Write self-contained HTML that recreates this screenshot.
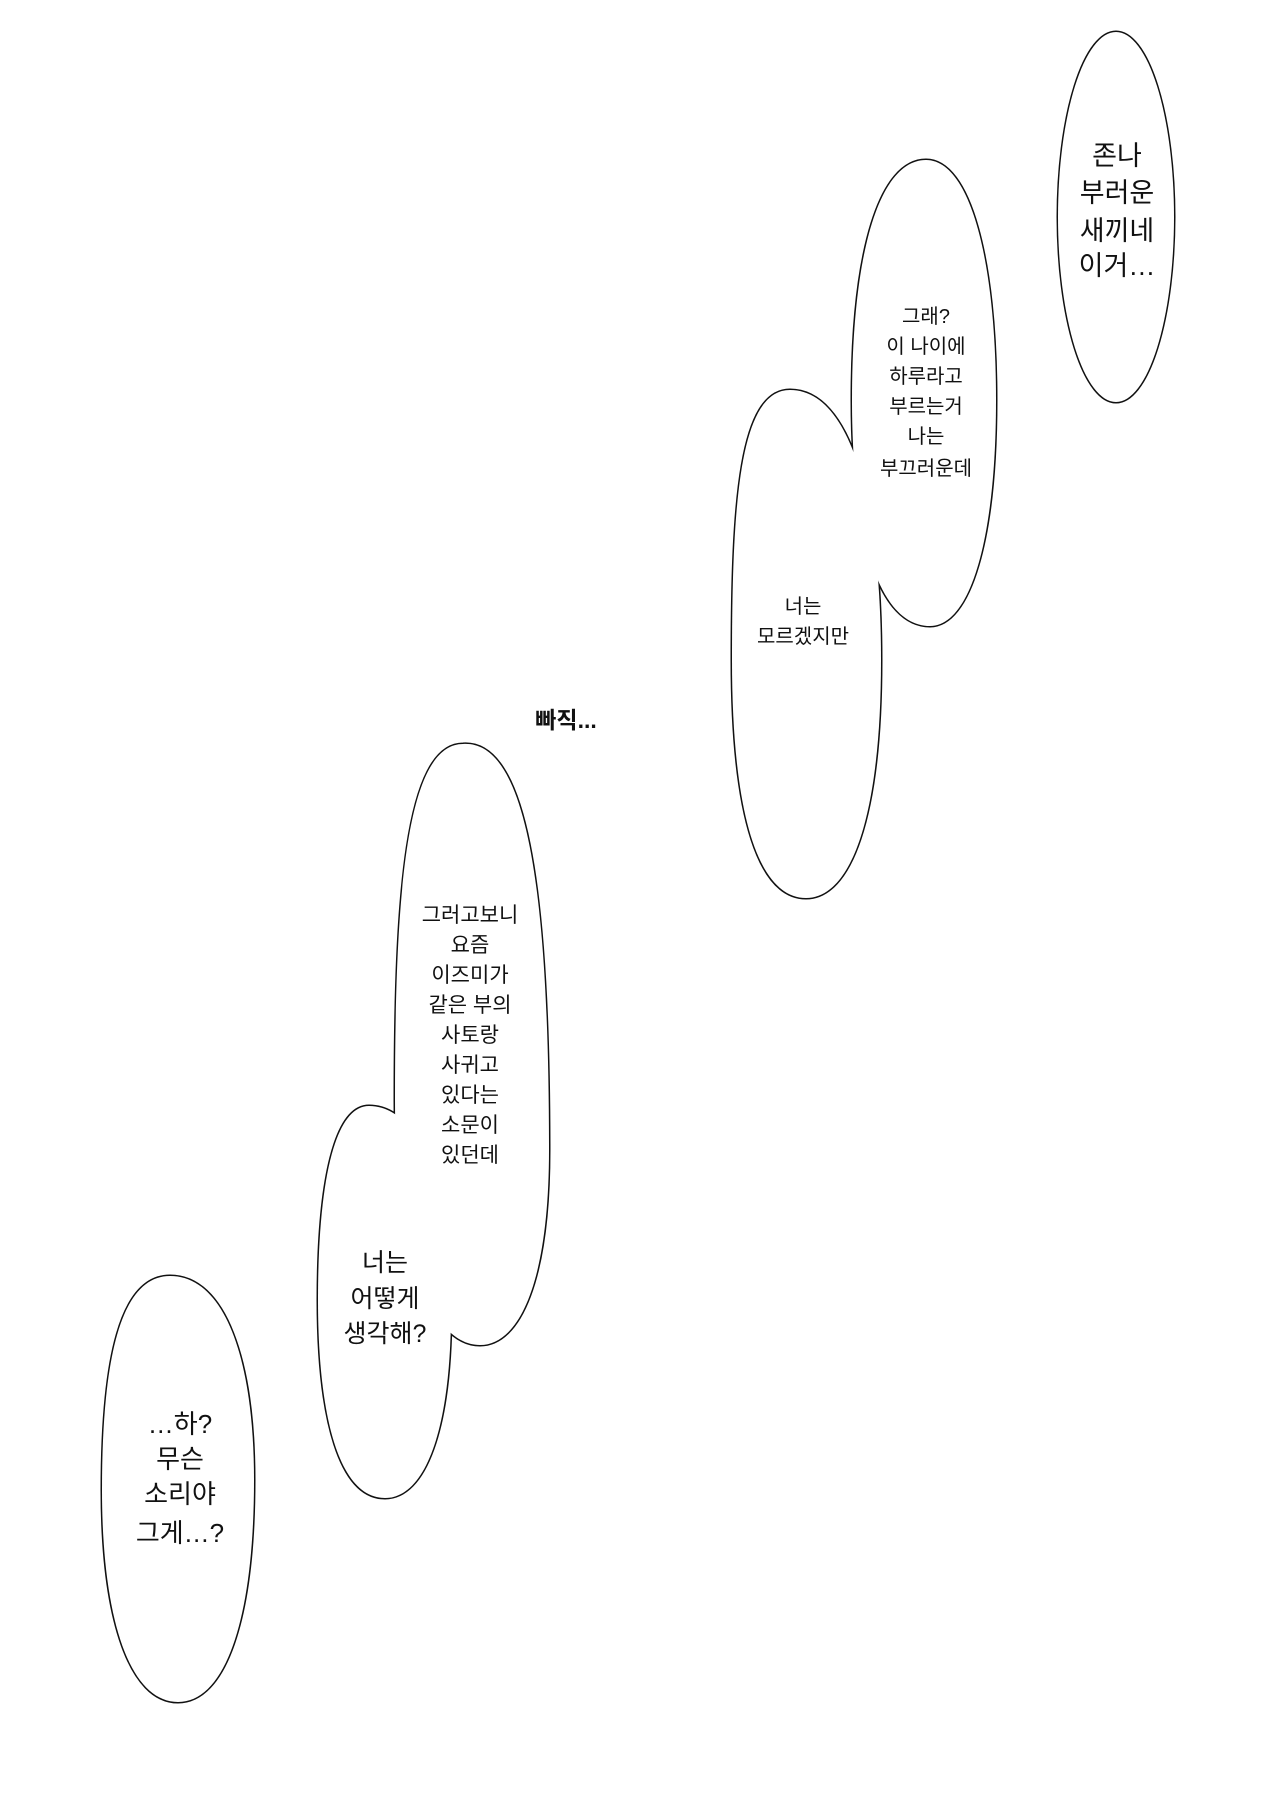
<!DOCTYPE html>
<html><head><meta charset="utf-8"><style>
html,body{margin:0;padding:0;background:#fff;}
svg{display:block;}
text{font-family:"Liberation Sans","Noto Sans CJK KR","NanumGothic",sans-serif;fill:#111;text-anchor:middle;}
</style></head><body>
<svg width="1280" height="1802" viewBox="0 0 1280 1802" xmlns="http://www.w3.org/2000/svg">
<rect width="1280" height="1802" fill="#fff"/>
<g fill="none" stroke="#111" stroke-width="3">
<ellipse cx="1116" cy="217" rx="58" ry="185"/>
<path d="M926,160 C970,160 996,260 996,400 C996,540 970,626 930,626 C880,626 852,540 852,400 C852,250 880,160 926,160 Z"/>
<path d="M790,390 C850,390 881,500 881,660 C881,820 850,898 806,898 C760,898 732,820 732,660 C732,500 740,390 790,390 Z"/>
<path d="M463,744 C525,740 549,880 549,1150 C549,1280 520,1345 480,1345 C430,1345 395,1250 395,1100 C395,900 405,744 463,744 Z"/>
<path d="M369,1106 C420,1106 451,1190 451,1310 C451,1430 425,1498 385,1498 C340,1498 318,1420 318,1300 C318,1180 335,1106 369,1106 Z"/>
<path d="M170,1276 C225,1276 254,1360 254,1480 C254,1620 225,1702 178,1702 C130,1702 102,1620 102,1490 C102,1360 120,1276 170,1276 Z"/>
</g>
<g fill="#fff" stroke="none">
<ellipse cx="1116" cy="217" rx="58" ry="185"/>
<path d="M926,160 C970,160 996,260 996,400 C996,540 970,626 930,626 C880,626 852,540 852,400 C852,250 880,160 926,160 Z"/>
<path d="M790,390 C850,390 881,500 881,660 C881,820 850,898 806,898 C760,898 732,820 732,660 C732,500 740,390 790,390 Z"/>
<path d="M463,744 C525,740 549,880 549,1150 C549,1280 520,1345 480,1345 C430,1345 395,1250 395,1100 C395,900 405,744 463,744 Z"/>
<path d="M369,1106 C420,1106 451,1190 451,1310 C451,1430 425,1498 385,1498 C340,1498 318,1420 318,1300 C318,1180 335,1106 369,1106 Z"/>
<path d="M170,1276 C225,1276 254,1360 254,1480 C254,1620 225,1702 178,1702 C130,1702 102,1620 102,1490 C102,1360 120,1276 170,1276 Z"/>
</g>
<g font-size="27">
<text x="1117" y="165">존나</text>
<text x="1117" y="202">부러운</text>
<text x="1117" y="240">새끼네</text>
<text x="1117" y="275">이거…</text>
</g>
<g font-size="20">
<text x="926" y="323">그래?</text>
<text x="926" y="353">이 나이에</text>
<text x="926" y="383">하루라고</text>
<text x="926" y="413">부르는거</text>
<text x="926" y="443">나는</text>
<text x="926" y="475">부끄러운데</text>
<text x="803" y="613">너는</text>
<text x="803" y="643">모르겠지만</text>
</g>
<text x="566" y="728" font-size="23" font-weight="bold">빠직...</text>
<g font-size="21">
<text x="470" y="922">그러고보니</text>
<text x="470" y="952">요즘</text>
<text x="470" y="982">이즈미가</text>
<text x="470" y="1012">같은 부의</text>
<text x="470" y="1042">사토랑</text>
<text x="470" y="1072">사귀고</text>
<text x="470" y="1102">있다는</text>
<text x="470" y="1132">소문이</text>
<text x="470" y="1162">있던데</text>
</g>
<g font-size="25">
<text x="385" y="1271">너는</text>
<text x="385" y="1307">어떻게</text>
<text x="385" y="1342">생각해?</text>
</g>
<g font-size="26">
<text x="180" y="1433">…하?</text>
<text x="180" y="1468">무슨</text>
<text x="180" y="1503">소리야</text>
<text x="180" y="1542">그게…?</text>
</g>
</svg>
</body></html>
